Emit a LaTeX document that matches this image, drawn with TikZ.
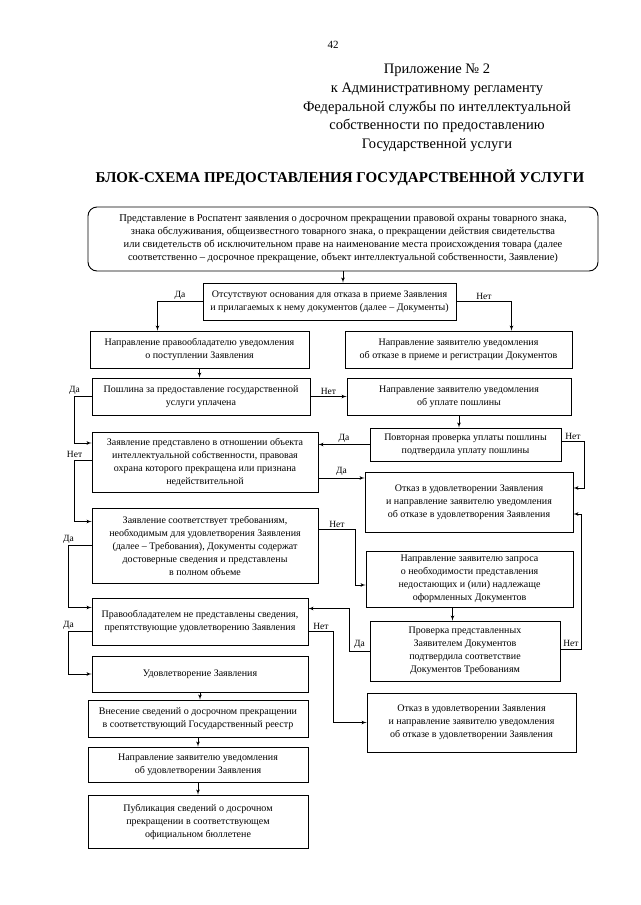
\documentclass[tikz,border=0pt]{standalone}
\usepackage{fontspec}
\setmainfont{Liberation Serif}
\usetikzlibrary{positioning,shapes,arrows}
\tikzstyle{block} = [rectangle, draw, line width=0.9pt, align=center,
    font=\fontsize{10}{13}\selectfont, inner sep=2pt]
\tikzstyle{start} = [block, rounded corners=9pt, font=\fontsize{10.5}{13}\selectfont]
\tikzstyle{line} = [draw, line width=0.7pt, -latex']
\tikzstyle{answer} = [font=\fontsize{9.5}{11}\selectfont, inner sep=2pt]

\begin{document}
\begin{tikzpicture}[x=1pt, y=-1pt]
    \useasboundingbox (0,0) rectangle (640,905);
    % Header
    \node (page) at (333,45) {\fontsize{11}{13}\selectfont 42};
    \node [align=center, font=\fontsize{14.5}{18.7}\selectfont] (appendix) at (437,108)
        {Приложение № 2\hspace{20pt}\\ к Административному регламенту\\ Федеральной службы по интеллектуальной\\
         собственности по предоставлению\\ Государственной услуги};
    \node [font=\fontsize{15}{17}\selectfont\bfseries] (title) at (340,178)
        {БЛОК-СХЕМА ПРЕДОСТАВЛЕНИЯ ГОСУДАРСТВЕННОЙ УСЛУГИ};
    % Place nodes
    \node [start, minimum width=510pt, minimum height=64pt] (apply) at (343,239)
        {Представление в Роспатент заявления о досрочном прекращении правовой охраны товарного знака,\\
         знака обслуживания, общеизвестного товарного знака, о прекращении действия свидетельства\\
         или свидетельств об исключительном праве на наименование места происхождения товара (далее\\
         соответственно – досрочное прекращение, объект интеллектуальной собственности, Заявление)};
    \node [block, minimum width=253pt, minimum height=37pt] (grounds) at (329.5,301.5)
        {Отсутствуют основания для отказа в приеме Заявления\\ и прилагаемых к нему документов (далее – Документы)};
    \node [block, minimum width=219pt, minimum height=37pt] (notifyowner) at (199.5,349.5)
        {Направление правообладателю уведомления\\ о поступлении Заявления};
    \node [block, minimum width=227pt, minimum height=37pt] (refuse) at (458.5,349.5)
        {Направление заявителю уведомления\\ об отказе в приеме и регистрации Документов};
    \node [block, minimum width=218pt, minimum height=37pt] (fee) at (201,396.5)
        {Пошлина за предоставление государственной\\ услуги уплачена};
    \node [block, minimum width=224pt, minimum height=37pt] (askfee) at (459,396.5)
        {Направление заявителю уведомления\\ об уплате пошлины};
    \node [block, minimum width=226pt, minimum height=60pt] (terminated) at (205,462)
        {Заявление представлено в отношении объекта\\ интеллектуальной собственности, правовая\\
         охрана которого прекращена или признана\\ недействительной};
    \node [block, minimum width=191pt, minimum height=33pt] (recheck) at (465.5,444.5)
        {Повторная проверка уплаты пошлины\\ подтвердила уплату пошлины};
    \node [block, minimum width=208pt, minimum height=60pt] (reject) at (469,502)
        {Отказ в удовлетворении Заявления\\ и направление заявителю уведомления\\ об отказе в удовлетворения Заявления};
    \node [block, minimum width=226pt, minimum height=75pt] (complies) at (205,545.5)
        {Заявление соответствует требованиям,\\ необходимым для удовлетворения Заявления\\
         (далее – Требования), Документы содержат\\ достоверные сведения и представлены\\ в полном объеме};
    \node [block, minimum width=207pt, minimum height=56pt] (request) at (469.5,579)
        {Направление заявителю запроса\\ о необходимости представления\\ недостающих и (или) надлежаще\\ оформленных Документов};
    \node [block, minimum width=216pt, minimum height=47pt] (nodata) at (200,621.5)
        {Правообладателем не представлены сведения,\\ препятствующие удовлетворению Заявления};
    \node [block, minimum width=190pt, minimum height=60pt] (verify) at (465,651)
        {Проверка представленных\\ Заявителем Документов\\ подтвердила соответствие\\ Документов Требованиям};
    \node [block, minimum width=216pt, minimum height=36pt] (grant) at (200,674)
        {Удовлетворение Заявления};
    \node [block, minimum width=220pt, minimum height=37pt] (register) at (198,718.5)
        {Внесение сведений о досрочном прекращении\\ в соответствующий Государственный реестр};
    \node [block, minimum width=209pt, minimum height=59pt] (rejectlast) at (471.5,722.5)
        {Отказ в удовлетворении Заявления\\ и направление заявителю уведомления\\ об отказе в удовлетворении Заявления};
    \node [block, minimum width=220pt, minimum height=35pt] (notifygrant) at (198,764.5)
        {Направление заявителю уведомления\\ об удовлетворении Заявления};
    \node [block, minimum width=220pt, minimum height=53pt] (publish) at (198,821.5)
        {Публикация сведений о досрочном\\ прекращении в соответствующем\\ официальном бюллетене};
    % Draw edges
    \path [line] (apply.south) -- (apply.south |- grounds.north);
    \path [line] (grounds.west) -| node [answer, above, pos=0.25] (yes1) {Да} ([xshift=-42pt]notifyowner.north);
    \path [line] (grounds.east) -| node [answer, above, pos=0.25] (no1) {Нет} ([xshift=53pt]refuse.north);
    \path [line] (notifyowner.south) -- (notifyowner.south |- fee.north);
    \path [line] (fee.east) -- node [answer, above] (no2) {Нет} (fee.east -| askfee.west);
    \path [line] (fee.west) -- ++(-17,0) node [answer, above] (yes2) {Да} |- ([yshift=19pt]terminated.west);
    \path [line] (askfee.south) -- (askfee.south |- recheck.north);
    \path [line] (recheck.west) -- node [answer, above] (yes3) {Да} (recheck.west -| terminated.east);
    \path [line] ([yshift=3pt]recheck.east) -- node [answer, above] (no3) {Нет} ++(23,0) |- ([yshift=14pt]reject.east);
    \path [line] ([yshift=-16pt]terminated.east) -- node [answer, above] (yes4) {Да} ([yshift=-16pt]terminated.east -| reject.west);
    \path [line] ([yshift=2pt]terminated.west) -- ++(-17,0) node [answer, above] (no4) {Нет} |- ([yshift=24pt]complies.west);
    \path [line] ([yshift=16pt]complies.east) -- node [answer, above] (no5) {Нет} ++(37,0) |- ([yshift=-6pt]request.west);
    \path [line] (complies.west) -- ++(-23,0) node [answer, above] (yes5) {Да} |- ([yshift=14pt]nodata.west);
    \path [line] ([xshift=-17pt]request.south) -- ([xshift=-17pt]request.south |- verify.north);
    \path [line] (verify.west) -- node [answer, above] (yes6) {Да} ++(-20,0) |- ([yshift=13pt]nodata.east);
    \path [line] ([yshift=2pt]verify.east) -- node [answer, above] (no6) {Нет} ++(21,0) |- ([yshift=-12pt]reject.east);
    \path [line] ([yshift=-10pt]nodata.east) -- node [answer, above] (no7) {Нет} ++(25,0) |- (rejectlast.west);
    \path [line] ([yshift=-10pt]nodata.west) -- ++(-23,0) node [answer, above] (yes7) {Да} |- (grant.west);
    \path [line] (grant.south) -- (grant.south |- register.north);
    \path [line] (register.south) -- (register.south |- notifygrant.north);
    \path [line] (notifygrant.south) -- (notifygrant.south |- publish.north);
\end{tikzpicture}
\end{document}
